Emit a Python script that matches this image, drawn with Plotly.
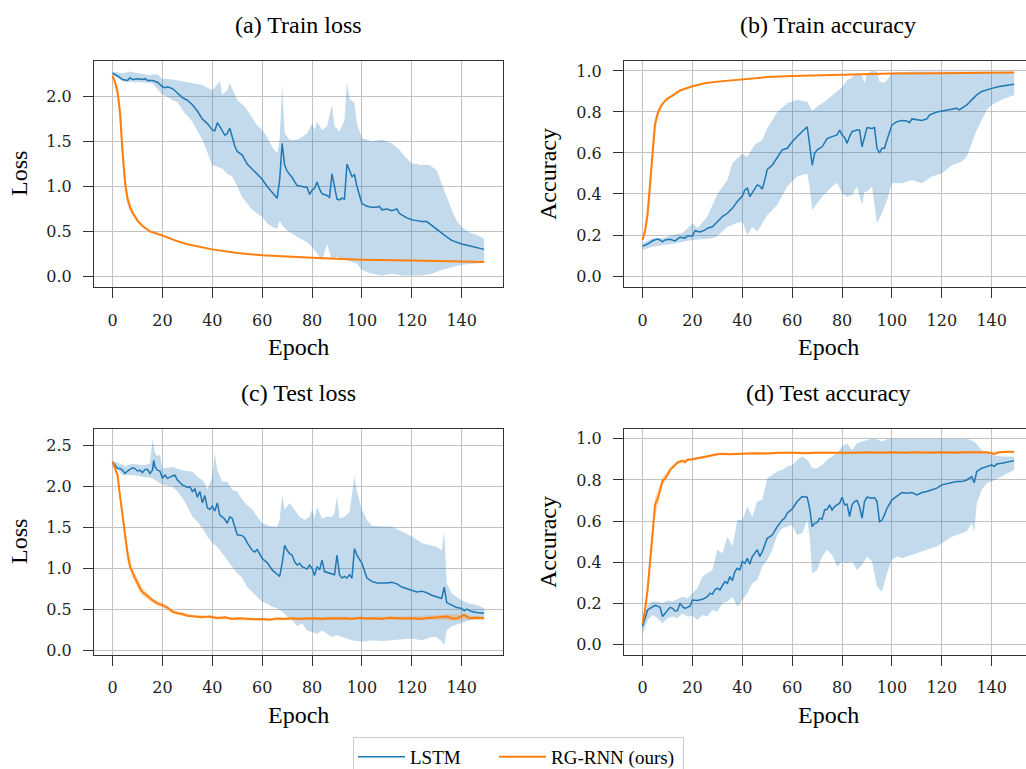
import plotly.graph_objects as go

W, H = 1026, 769
BLUE = '#1f77b4'
ORANGE = '#ff7f0e'
BLUE_FILL = 'rgba(31,119,180,0.27)'
ORANGE_FILL = 'rgba(255,127,14,0.28)'

# ---------------- (a) Train loss ----------------
a_lstm_mean_x = [0,2,4,6,7,8,10,12,13,14,16,18,20,21,22,24,26,28,30,32,34,36,38,40,41,42,43,44,45,46,47,48,49,50,52,54,56,58,60,62,64,66,67,68,69,70,72,74,76,78,79,80,81,82,83,84,86,87,88,89,90,91,92,93,94,95,96,97,98,100,102,104,106,107,108,110,112,114,115,118,120,122,124,126,128,130,132,134,136,138,140,143,146,149]
a_lstm_mean_y = [2.26,2.23,2.19,2.18,2.21,2.19,2.20,2.19,2.20,2.18,2.18,2.16,2.11,2.10,2.11,2.09,2.04,1.99,1.96,1.91,1.84,1.75,1.70,1.63,1.62,1.71,1.67,1.61,1.57,1.59,1.65,1.55,1.45,1.39,1.35,1.25,1.19,1.14,1.08,1.00,0.93,0.87,1.07,1.48,1.24,1.17,1.10,1.01,1.00,0.99,0.91,0.96,0.98,1.05,0.97,0.92,0.90,0.88,1.14,1.00,0.86,0.85,0.87,0.86,1.25,1.18,1.11,1.13,1.00,0.81,0.78,0.77,0.77,0.78,0.74,0.75,0.73,0.75,0.70,0.65,0.63,0.62,0.61,0.61,0.57,0.52,0.48,0.44,0.40,0.38,0.36,0.34,0.32,0.30]
a_lstm_up_x = [0,4,7,10,14,18,20,24,28,32,36,40,42,43,44,46,47,48,50,53,56,58,60,62,64,66,67,68,69,71,74,76,78,80,81,82,84,86,88,89,91,93,94,95,97,98,100,104,108,112,115,118,120,124,127,130,132,134,136,138,140,143,146,149]
a_lstm_up_y = [2.28,2.26,2.28,2.26,2.24,2.25,2.20,2.19,2.17,2.15,2.13,2.07,2.13,2.17,2.02,2.07,2.15,2.09,1.96,1.89,1.76,1.68,1.63,1.55,1.44,1.37,1.52,2.13,1.59,1.52,1.52,1.55,1.59,1.70,1.63,1.72,1.63,1.67,1.91,1.67,1.61,1.74,2.17,1.98,1.93,1.70,1.54,1.50,1.52,1.48,1.41,1.31,1.26,1.24,1.24,1.18,1.03,0.88,0.74,0.62,0.55,0.49,0.46,0.42]
a_lstm_lo_x = [0,4,8,12,16,20,22,24,26,28,32,36,40,42,44,46,48,50,52,54,56,58,60,62,64,66,67,68,70,74,78,80,82,84,86,88,90,92,94,96,98,100,104,108,112,116,120,124,128,132,136,140,145,149]
a_lstm_lo_y = [2.25,2.17,2.16,2.16,2.15,2.02,2.00,1.96,1.94,1.85,1.72,1.52,1.24,1.22,1.20,1.14,1.11,1.00,0.88,0.81,0.74,0.70,0.66,0.59,0.55,0.53,0.62,0.57,0.51,0.44,0.38,0.33,0.25,0.18,0.36,0.18,0.22,0.18,0.18,0.16,0.14,0.07,0.03,0.01,0.03,0.01,0.01,0.01,0.03,0.07,0.10,0.13,0.14,0.15]
a_rg_x = [0,1,2,3,4,5,6,7,8,10,12,15,20,25,30,40,50,60,80,100,120,140,149]
a_rg_mean = [2.23,2.16,2.05,1.82,1.38,1.05,0.86,0.77,0.71,0.62,0.56,0.50,0.455,0.40,0.357,0.30,0.26,0.234,0.208,0.186,0.175,0.164,0.16]
a_rg_up = [2.25,2.20,2.12,1.95,1.55,1.18,0.94,0.82,0.74,0.64,0.57,0.51,0.46,0.405,0.36,0.303,0.263,0.237,0.21,0.188,0.177,0.166,0.162]
a_rg_lo = [2.21,2.12,1.98,1.68,1.22,0.95,0.80,0.73,0.68,0.60,0.55,0.49,0.45,0.395,0.354,0.297,0.257,0.231,0.206,0.184,0.173,0.162,0.158]

# ---------------- (b) Train accuracy ----------------
b_lstm_mean_x = [0,2,4,6,7,8,9,11,13,15,17,18,20,21,23,25,26,28,30,32,34,36,38,40,41,42,43,44,45,46,47,48,49,50,52,54,56,58,60,62,64,66,67,68,69,70,72,74,76,78,79,80,81,82,83,84,86,87,88,89,90,92,93,94,95,96,97,98,100,102,104,106,107,108,110,112,114,115,118,120,122,124,126,127,128,130,132,134,136,138,140,143,146,149]
b_lstm_mean_y = [0.146,0.156,0.172,0.180,0.176,0.167,0.176,0.179,0.171,0.189,0.185,0.195,0.195,0.221,0.215,0.224,0.233,0.240,0.265,0.290,0.306,0.330,0.363,0.390,0.420,0.428,0.387,0.406,0.430,0.444,0.439,0.424,0.468,0.520,0.540,0.580,0.615,0.623,0.655,0.680,0.704,0.728,0.640,0.540,0.598,0.615,0.630,0.670,0.680,0.688,0.712,0.688,0.676,0.647,0.680,0.704,0.712,0.712,0.630,0.680,0.724,0.720,0.724,0.623,0.600,0.623,0.623,0.663,0.737,0.753,0.758,0.756,0.748,0.766,0.761,0.758,0.766,0.785,0.800,0.805,0.810,0.815,0.818,0.810,0.818,0.834,0.859,0.883,0.900,0.909,0.915,0.924,0.930,0.935]
b_lstm_up_x = [0,4,8,12,16,20,22,26,30,34,36,40,42,45,48,50,54,58,62,66,68,70,74,78,80,82,84,86,88,89,90,92,94,95,97,99,100,110,130,149]
b_lstm_up_y = [0.160,0.184,0.184,0.200,0.208,0.257,0.233,0.290,0.400,0.468,0.550,0.598,0.580,0.640,0.663,0.720,0.800,0.842,0.859,0.850,0.806,0.826,0.859,0.900,0.920,0.956,0.969,0.989,0.976,0.940,0.989,1.000,0.997,0.948,0.943,0.972,0.993,0.997,0.997,0.997]
b_lstm_lo_x = [0,4,8,12,16,20,24,28,30,34,38,40,42,44,46,48,50,54,58,62,66,67,68,70,72,76,78,80,82,84,86,88,89,90,92,94,96,98,100,104,108,112,116,120,124,128,130,132,134,136,138,140,144,149]
b_lstm_lo_y = [0.127,0.143,0.151,0.156,0.167,0.176,0.179,0.184,0.195,0.240,0.260,0.265,0.200,0.240,0.216,0.257,0.298,0.346,0.436,0.485,0.500,0.436,0.322,0.354,0.387,0.436,0.455,0.403,0.387,0.395,0.436,0.346,0.411,0.411,0.436,0.257,0.306,0.370,0.452,0.452,0.468,0.452,0.485,0.500,0.540,0.558,0.582,0.647,0.712,0.761,0.810,0.834,0.859,0.883]
b_rg_x = [0,1,2,3,4,5,6,7,8,9,10,12,15,20,25,30,40,50,60,80,100,120,149]
b_rg_mean = [0.176,0.22,0.30,0.44,0.62,0.74,0.79,0.82,0.84,0.855,0.865,0.88,0.905,0.925,0.94,0.948,0.96,0.97,0.976,0.982,0.987,0.989,0.992]
b_rg_up = [0.18,0.25,0.36,0.52,0.68,0.77,0.81,0.835,0.85,0.862,0.871,0.885,0.908,0.928,0.942,0.95,0.962,0.971,0.977,0.983,0.988,0.99,0.993]
b_rg_lo = [0.172,0.20,0.26,0.37,0.55,0.70,0.77,0.805,0.83,0.848,0.859,0.875,0.902,0.922,0.938,0.946,0.958,0.969,0.975,0.981,0.986,0.988,0.991]

# ---------------- (c) Test loss ----------------
c_lstm_mean_x = [0,1,2,3,4,5,6,8,9,10,11,12,13,14,15,16,16.5,17,18,19,20,21,22,24,25,26,28,30,31,32,33,34,35,36,37,38,39,40,41,42,43,44,45,46,47,48,50,52,53,54,56,57,58,60,62,64,66,67,68,69,70,71,72,73,74,75,76,78,79,80,81,82,83,84,85,86,88,89,90,91,92,93,94,95,96,97,98,100,102,104,106,108,110,112,114,116,118,120,122,124,126,128,130,132,133,134,136,138,140,141,142,144,146,149]
c_lstm_mean_y = [2.30,2.26,2.22,2.22,2.20,2.16,2.19,2.23,2.22,2.19,2.20,2.17,2.21,2.21,2.16,2.20,2.32,2.24,2.20,2.19,2.10,2.14,2.10,2.13,2.14,2.08,2.02,1.99,2.00,1.94,1.97,1.87,1.94,1.80,1.89,1.74,1.72,1.76,1.70,1.80,1.65,1.63,1.60,1.55,1.63,1.61,1.41,1.40,1.37,1.31,1.22,1.20,1.23,1.12,1.07,0.98,0.92,0.90,1.06,1.28,1.22,1.18,1.16,1.08,1.04,1.06,1.02,0.99,1.04,1.00,0.91,1.02,0.98,1.10,0.96,0.95,0.93,0.92,1.16,0.92,0.88,0.90,0.88,0.92,0.88,1.24,1.16,1.06,0.88,0.84,0.82,0.82,0.82,0.83,0.81,0.77,0.75,0.73,0.71,0.72,0.70,0.67,0.65,0.63,0.77,0.58,0.55,0.52,0.51,0.48,0.50,0.47,0.46,0.45]
c_lstm_up_x = [0,2,5,8,12,15,16,17,18,19,20,24,28,32,34,36,37,38,40,41,42,44,46,48,50,52,54,56,58,60,62,64,66,67,68,69,71,73,75,77,79,80,81,82,84,86,88,89,90,91,93,95,96,97,98,100,102,104,108,112,116,120,124,128,130,132,133,134,136,138,140,143,146,149]
c_lstm_up_y = [2.32,2.29,2.25,2.28,2.26,2.28,2.58,2.41,2.37,2.39,2.22,2.24,2.20,2.18,2.12,2.08,2.04,1.96,2.12,2.41,2.20,2.06,2.06,1.96,1.94,1.84,1.77,1.72,1.63,1.55,1.53,1.51,1.51,1.59,1.90,1.72,1.80,1.72,1.63,1.59,1.63,1.72,1.61,1.75,1.61,1.63,1.63,1.67,1.88,1.61,1.63,1.69,1.88,2.12,1.94,1.72,1.59,1.52,1.51,1.51,1.45,1.39,1.31,1.28,1.26,1.22,1.45,0.82,0.69,0.65,0.61,0.57,0.55,0.51]
c_lstm_lo_x = [0,4,8,12,16,20,24,26,28,30,32,34,36,38,40,42,44,46,48,50,52,54,56,58,60,62,64,66,68,70,72,74,76,78,80,82,84,86,88,90,92,94,96,100,104,108,112,116,120,124,128,130,132,133,134,136,140,144,149]
c_lstm_lo_y = [2.28,2.14,2.14,2.12,2.10,2.02,2.00,1.94,1.86,1.76,1.63,1.57,1.49,1.39,1.31,1.26,1.18,1.10,1.02,0.94,0.88,0.77,0.71,0.65,0.59,0.57,0.53,0.51,0.47,0.41,0.37,0.29,0.33,0.24,0.22,0.20,0.24,0.20,0.16,0.18,0.16,0.14,0.12,0.10,0.12,0.11,0.12,0.13,0.14,0.12,0.16,0.16,0.10,0.06,0.24,0.29,0.33,0.37,0.39]
c_rg_x = [0,1,2,3,4,5,6,7,8,9,10,11,12,13,14,16,18,20,22,24,26,28,30,33,36,39,42,45,48,51,54,57,60,63,66,69,72,75,78,81,84,87,90,93,96,99,102,105,108,111,114,117,120,123,126,129,132,134,136,138,141,143,146,149]
c_rg_mean = [2.30,2.22,2.14,1.88,1.63,1.43,1.18,1.02,0.94,0.88,0.82,0.75,0.71,0.69,0.66,0.61,0.57,0.55,0.52,0.47,0.45,0.44,0.42,0.41,0.40,0.41,0.39,0.40,0.38,0.39,0.38,0.375,0.38,0.37,0.385,0.38,0.39,0.38,0.385,0.39,0.38,0.39,0.385,0.39,0.38,0.395,0.385,0.39,0.38,0.395,0.39,0.385,0.39,0.38,0.39,0.395,0.40,0.41,0.39,0.385,0.43,0.39,0.395,0.39]
c_rg_band_x = [0,2,4,6,8,10,12,14,16,18,20,24,28,32,40,50,60,70,80,90,100,110,120,128,132,136,140,141,143,149]
c_rg_up = [2.31,2.17,1.72,1.27,1.00,0.87,0.76,0.70,0.64,0.60,0.58,0.49,0.46,0.43,0.42,0.40,0.39,0.40,0.40,0.41,0.40,0.41,0.41,0.42,0.43,0.44,0.43,0.45,0.42,0.41]
c_rg_lo = [2.29,2.11,1.54,1.09,0.88,0.77,0.66,0.62,0.58,0.54,0.52,0.45,0.42,0.40,0.385,0.365,0.36,0.365,0.37,0.37,0.37,0.37,0.37,0.37,0.37,0.36,0.36,0.38,0.37,0.37]

# ---------------- (d) Test accuracy ----------------
d_lstm_mean_x = [0,1,2,3,4,5,6,7,8,9,10,11,12,13,14,15,16,17,18,19,20,22,24,26,27,28,29,30,31,32,33,34,35,36,37,38,39,40,41,42,43,44,45,46,47,48,50,52,54,56,57,58,60,62,64,66,67,68,69,70,71,72,73,74,75,76,77,78,79,80,81,82,83,84,85,86,87,88,89,90,92,93,94,95,96,97,98,100,102,104,106,108,110,112,114,116,118,120,122,124,126,128,130,132,133,134,136,138,140,141,142,144,146,149]
d_lstm_mean_y = [0.086,0.127,0.167,0.175,0.183,0.190,0.186,0.180,0.135,0.150,0.167,0.180,0.175,0.162,0.164,0.200,0.183,0.175,0.180,0.186,0.216,0.213,0.219,0.232,0.248,0.244,0.265,0.273,0.265,0.289,0.305,0.297,0.330,0.310,0.354,0.370,0.362,0.403,0.394,0.419,0.390,0.427,0.443,0.460,0.427,0.451,0.516,0.532,0.573,0.605,0.614,0.638,0.659,0.695,0.719,0.716,0.662,0.573,0.589,0.592,0.614,0.609,0.654,0.657,0.679,0.654,0.670,0.679,0.687,0.716,0.679,0.682,0.622,0.679,0.695,0.700,0.670,0.614,0.695,0.716,0.711,0.714,0.695,0.597,0.605,0.630,0.662,0.703,0.719,0.739,0.735,0.739,0.727,0.739,0.744,0.752,0.760,0.776,0.781,0.787,0.792,0.792,0.800,0.816,0.787,0.841,0.857,0.865,0.873,0.865,0.878,0.881,0.886,0.894]
d_lstm_up_x = [0,2,4,6,8,10,12,14,16,18,20,22,24,26,28,30,32,34,36,38,40,42,44,46,48,50,52,54,56,58,60,62,64,66,67,68,70,72,74,76,78,80,82,84,86,88,90,92,94,96,98,100,130,133,136,140,144,149]
d_lstm_up_y = [0.102,0.190,0.208,0.208,0.200,0.213,0.208,0.219,0.232,0.224,0.248,0.273,0.330,0.346,0.362,0.460,0.443,0.524,0.476,0.605,0.605,0.670,0.620,0.695,0.703,0.808,0.825,0.841,0.849,0.865,0.873,0.898,0.914,0.898,0.881,0.857,0.857,0.873,0.898,0.914,0.930,0.963,0.979,0.946,0.979,0.987,0.995,1.000,0.998,0.987,0.998,1.000,1.000,0.987,0.946,0.922,0.914,0.914]
d_lstm_lo_x = [0,2,4,6,8,10,12,14,16,18,20,22,24,26,28,30,32,34,36,38,40,42,44,46,48,50,52,54,56,58,60,62,64,66,67,68,70,72,74,76,78,80,82,84,86,88,90,92,94,96,98,100,102,104,108,110,114,118,120,124,128,130,132,133,134,136,138,140,144,149]
d_lstm_lo_y = [0.045,0.118,0.143,0.127,0.102,0.127,0.135,0.127,0.151,0.135,0.138,0.118,0.143,0.135,0.167,0.159,0.200,0.208,0.232,0.183,0.216,0.248,0.297,0.313,0.378,0.411,0.460,0.532,0.565,0.573,0.581,0.532,0.540,0.605,0.524,0.346,0.362,0.427,0.460,0.435,0.378,0.403,0.394,0.403,0.362,0.386,0.427,0.403,0.281,0.256,0.346,0.411,0.427,0.419,0.435,0.443,0.460,0.476,0.492,0.524,0.540,0.549,0.589,0.549,0.687,0.752,0.784,0.792,0.816,0.849]
d_rg_x = [0,1,2,3,4,5,6,7,8,9,10,11,12,13,14,15,16,17,18,20,22,24,26,28,30,32,35,40,45,50,55,60,65,70,75,80,85,90,95,100,105,110,115,120,125,130,135,138,141,143,146,149]
d_rg_mean = [0.102,0.167,0.265,0.394,0.524,0.679,0.706,0.752,0.795,0.808,0.825,0.849,0.862,0.873,0.885,0.890,0.893,0.886,0.898,0.901,0.906,0.911,0.914,0.922,0.925,0.927,0.925,0.927,0.930,0.929,0.933,0.933,0.930,0.933,0.933,0.930,0.933,0.935,0.933,0.935,0.933,0.935,0.933,0.935,0.933,0.935,0.933,0.935,0.927,0.935,0.937,0.937]
d_rg_band_x = [0,2,3,4,5,6,8,10,12,14,16,18,20,25,30,40,60,80,100,120,140,149]
d_rg_up = [0.11,0.30,0.44,0.59,0.72,0.74,0.815,0.84,0.872,0.893,0.90,0.905,0.908,0.917,0.93,0.933,0.938,0.937,0.94,0.94,0.94,0.941]
d_rg_lo = [0.095,0.23,0.35,0.46,0.62,0.67,0.775,0.81,0.852,0.877,0.886,0.891,0.894,0.905,0.92,0.921,0.928,0.925,0.93,0.93,0.928,0.933]

titles = ['(a) Train loss', '(b) Train accuracy', '(c) Test loss', '(d) Test accuracy']
ylabels = ['Loss', 'Accuracy', 'Loss', 'Accuracy']
xlabel = 'Epoch'
series_names = ['LSTM', 'RG-RNN (ours)']
x_ticks = [0, 20, 40, 60, 80, 100, 120, 140]
y_ticks = [[0, 0.5, 1.0, 1.5, 2.0], [0, 0.2, 0.4, 0.6, 0.8, 1.0],
           [0, 0.5, 1.0, 1.5, 2.0, 2.5], [0, 0.2, 0.4, 0.6, 0.8, 1.0]]

panels = [
    (a_lstm_mean_x, a_lstm_mean_y, a_lstm_up_x, a_lstm_up_y, a_lstm_lo_x, a_lstm_lo_y,
     a_rg_x, a_rg_mean, a_rg_x, a_rg_up, a_rg_lo),
    (b_lstm_mean_x, b_lstm_mean_y, b_lstm_up_x, b_lstm_up_y, b_lstm_lo_x, b_lstm_lo_y,
     b_rg_x, b_rg_mean, b_rg_x, b_rg_up, b_rg_lo),
    (c_lstm_mean_x, c_lstm_mean_y, c_lstm_up_x, c_lstm_up_y, c_lstm_lo_x, c_lstm_lo_y,
     c_rg_x, c_rg_mean, c_rg_band_x, c_rg_up, c_rg_lo),
    (d_lstm_mean_x, d_lstm_mean_y, d_lstm_up_x, d_lstm_up_y, d_lstm_lo_x, d_lstm_lo_y,
     d_rg_x, d_rg_mean, d_rg_band_x, d_rg_up, d_rg_lo),
]

for p in panels:
    pairs = [(p[0], p[1]), (p[2], p[3]), (p[4], p[5]), (p[6], p[7]), (p[8], p[9]), (p[8], p[10])]
    for xs, ys in pairs:
        if len(xs) != len(ys):
            raise ValueError('length mismatch %d vs %d' % (len(xs), len(ys)))

# layout geometry (pixels)
col_x = [(94, 502.7), (624, 1026)]
row_y = [(60.7, 287.3), (429, 655)]
x_ranges = [[-7.45, 156.45], [-7.45, 153.75]]
y_ranges = [[-0.122, 2.40], [-0.055, 1.050], [-0.061, 2.704], [-0.052, 1.048]]

fig = go.Figure()
for i, p in enumerate(panels):
    n = i + 1
    xa = 'x' if n == 1 else 'x%d' % n
    ya = 'y' if n == 1 else 'y%d' % n
    mx, my, ux, uy, lx, ly, rx, rm, rbx, rup, rlo = p
    fig.add_trace(go.Scatter(x=list(ux) + list(lx)[::-1], y=list(uy) + list(ly)[::-1],
                             fill='toself', fillcolor=BLUE_FILL, line=dict(width=0),
                             mode='lines', hoverinfo='skip', showlegend=False,
                             xaxis=xa, yaxis=ya))
    fig.add_trace(go.Scatter(x=mx, y=my, mode='lines', line=dict(color=BLUE, width=1.5),
                             name=series_names[0], legendgroup='lstm', showlegend=(n == 1),
                             legendwidth=79, xaxis=xa, yaxis=ya))
    fig.add_trace(go.Scatter(x=list(rbx) + list(rbx)[::-1], y=list(rup) + list(rlo)[::-1],
                             fill='toself', fillcolor=ORANGE_FILL, line=dict(width=0),
                             mode='lines', hoverinfo='skip', showlegend=False,
                             xaxis=xa, yaxis=ya))
    fig.add_trace(go.Scatter(x=rx, y=rm, mode='lines', line=dict(color=ORANGE, width=2),
                             name=series_names[1], legendgroup='rg', showlegend=(n == 1),
                             legendwidth=127, xaxis=xa, yaxis=ya))

TICKFONT = dict(family='DejaVu Serif, serif', size=16, color='#222222')
LABFONT = dict(family='Liberation Serif, serif', size=24, color='#000000')
axis_common = dict(ticks='outside', ticklen=10, tickwidth=1.2, tickcolor='#333333',
                   showline=True, linecolor='#333333', linewidth=1.2,
                   showgrid=True, gridcolor='#c2c2c2', gridwidth=1.3,
                   zeroline=False, tickfont=TICKFONT, ticklabelstandoff=8)

layout = dict(width=W, height=H, margin=dict(l=0, r=0, t=0, b=0, autoexpand=False),
              paper_bgcolor='white', plot_bgcolor='white', showlegend=True)
annotations = []
for i in range(4):
    n = i + 1
    col = i % 2
    row = i // 2
    x0, x1 = col_x[col]
    y0, y1 = row_y[row]
    xk = 'xaxis' if n == 1 else 'xaxis%d' % n
    yk = 'yaxis' if n == 1 else 'yaxis%d' % n
    ya = 'y' if n == 1 else 'y%d' % n
    xa = 'x' if n == 1 else 'x%d' % n
    layout[xk] = dict(axis_common, domain=[x0 / W, x1 / W], range=x_ranges[col],
                      tickvals=x_ticks, anchor=ya, mirror=True)
    layout[yk] = dict(axis_common, domain=[1 - y1 / H, 1 - y0 / H], range=y_ranges[i],
                      tickvals=y_ticks[i], tickformat='.1f', anchor=xa,
                      mirror=(col == 0))
    full_right = x0 + (156.45 + 7.45) * (x1 - x0) / (x_ranges[col][1] - x_ranges[col][0])
    cx = (x0 + full_right) / 2
    annotations.append(dict(text=titles[i], x=cx / W, y=1 - (y0 - 36) / H, xref='paper', yref='paper',
                            xanchor='center', yanchor='middle', showarrow=False, font=LABFONT))
    annotations.append(dict(text=xlabel, x=cx / W, y=1 - (y1 + 60) / H, xref='paper', yref='paper',
                            xanchor='center', yanchor='middle', showarrow=False, font=LABFONT))
    lab_x = 19 if col == 0 else 548
    annotations.append(dict(text=ylabels[i], x=lab_x / W, y=1 - ((y0 + y1) / 2) / H,
                            xref='paper', yref='paper', xanchor='center', yanchor='middle',
                            textangle=-90, showarrow=False, font=LABFONT))
layout['annotations'] = annotations
layout['legend'] = dict(orientation='h', x=353 / W, xanchor='left', y=1 - 737 / H, yanchor='top',
                        bordercolor='#cccccc', borderwidth=1, bgcolor='white',
                        font=dict(family='Liberation Serif, serif', size=19, color='#000000'),
                        itemwidth=47, tracegroupgap=0)
fig.update_layout(**layout)
fig.write_html('out.html')
